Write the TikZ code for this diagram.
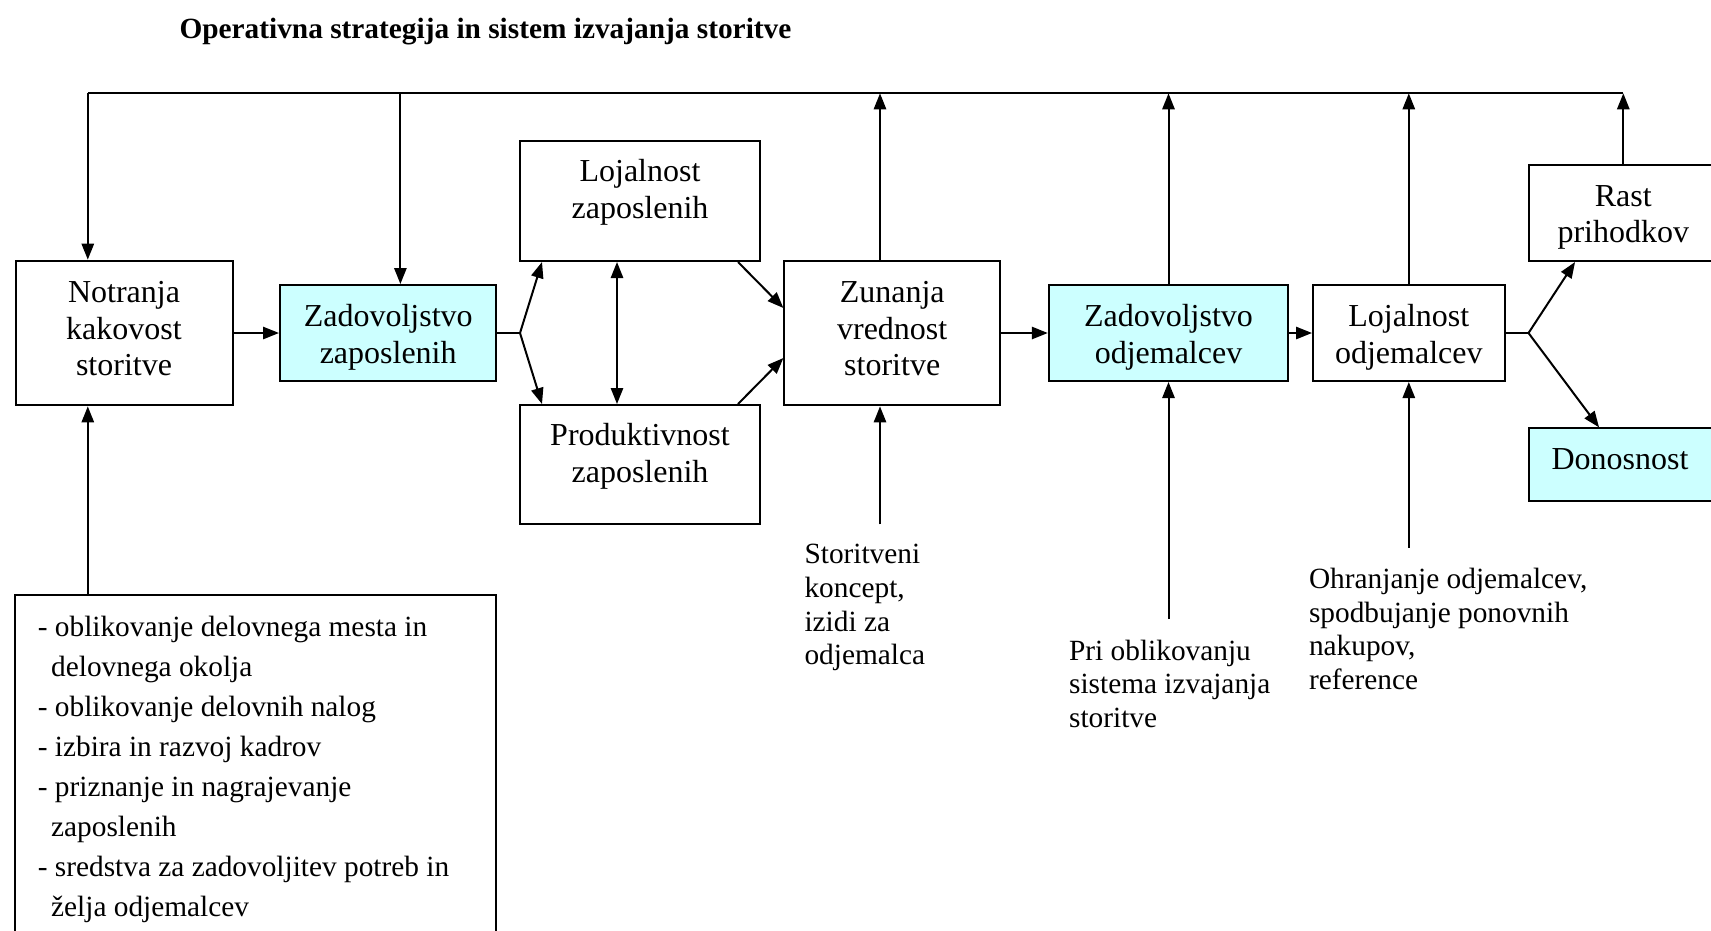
\documentclass[tikz,border=0pt]{standalone}
\usepackage{fontspec}
\setmainfont{Liberation Serif}
\usetikzlibrary{arrows.meta,calc}

\definecolor{svetlomodra}{HTML}{CCFFFF}
\newcommand{\pxu}{0.375pt}

\tikzset{
    blok/.style={draw, line width=0.75pt, inner sep=0pt},
    modriblok/.style={blok, fill=svetlomodra},
    bloknapis/.style={inner sep=0pt, align=center, font=\fontsize{12}{13.8}\selectfont},
    opis/.style={inner sep=0pt, align=left, font=\fontsize{11}{12.6}\selectfont},
    crta/.style={line width=0.75pt},
    puscica/.style={crta, -{Triangle[length=6pt,width=4.6pt]}},
    dvojna/.style={crta, {Triangle[length=6pt,width=4.6pt]}-{Triangle[length=6pt,width=4.6pt]}}
}

\begin{document}
\begin{tikzpicture}[x=0.375pt, y=-0.375pt]
        \useasboundingbox (0,0) rectangle (1711,930);

        \node[opis, font=\fontsize{11}{12.6}\selectfont\bfseries, anchor=base west] (naslov) at (179,38.2) {Operativna strategija in sistem izvajanja storitve};

        % bloki
        \node[blok, minimum width=217*\pxu, minimum height=144.7*\pxu] (notr) at (124,333) {};
        \node[bloknapis] (notrt) at (124,328.6) {Notranja\\kakovost\\storitve};
        \node[modriblok, minimum width=216.4*\pxu, minimum height=96*\pxu] (zadzap) at (388.2,333) {};
        \node[bloknapis] (zadzapt) at (388.2,337.4) {Zadovoljstvo\\zaposlenih};

        \node[blok, minimum width=240*\pxu, minimum height=120*\pxu] (lojzap) at (640,201) {};
        \node[bloknapis] (lojzapt) at (640,192) {Lojalnost\\zaposlenih};
        \node[blok, minimum width=240*\pxu, minimum height=119*\pxu] (prod) at (640,464.5) {};
        \node[bloknapis] (prodt) at (640,456.3) {Produktivnost\\zaposlenih};

        \node[blok, minimum width=215.6*\pxu, minimum height=144.7*\pxu] (zun) at (892.2,333) {};
        \node[bloknapis] (zunt) at (892.2,328.6) {Zunanja\\vrednost\\storitve};
        \node[modriblok, minimum width=239.4*\pxu, minimum height=96*\pxu] (zadodj) at (1168.5,333) {};
        \node[bloknapis] (zadodjt) at (1168.5,337.4) {Zadovoljstvo\\odjemalcev};
        \node[blok, minimum width=191.6*\pxu, minimum height=96*\pxu] (lojodj) at (1408.8,333) {};
        \node[bloknapis] (lojodjt) at (1408.8,337.4) {Lojalnost\\odjemalcev};

        \node[blok, minimum width=189.5*\pxu, minimum height=96*\pxu] (rast) at (1623.3,213) {};
        \node[bloknapis] (rastt) at (1623.3,217.5) {Rast\\prihodkov};
        \node[modriblok, minimum width=189.5*\pxu, minimum height=72.7*\pxu] (don) at (1623.3,464.7) {};
        \node[bloknapis] (dont) at (1620,459.2) {Donosnost};

        % spodnji seznam
        \node[blok, minimum width=481*\pxu, minimum height=365*\pxu] (seznam) at (255.9,777.5) {};
        \node[opis, font=\fontsize{11}{15}\selectfont, anchor=north west] (seznamt) at (37.3,615.9) {- oblikovanje delovnega mesta in\\\hspace*{5pt}delovnega okolja\\- oblikovanje delovnih nalog\\- izbira in razvoj kadrov\\- priznanje in nagrajevanje\\\hspace*{5pt}zaposlenih\\- sredstva za zadovoljitev potreb in\\\hspace*{5pt}želja odjemalcev};

        % opisi
        \node[opis, anchor=north west] (koncept) at (804,543.9) {Storitveni\\koncept,\\izidi za\\odjemalca};
        \node[opis, anchor=north west] (pri) at (1068.6,639.2) {Pri oblikovanju\\sistema izvajanja\\storitve};
        \node[opis, anchor=north west] (ohr) at (1308.5,567.8) {Ohranjanje odjemalcev,\\spodbujanje ponovnih\\nakupov,\\reference};

        \coordinate (zgL) at (87.8,93.3);
        \coordinate (zgZ) at (400.4,93.3);
        \coordinate (razc1) at (520,333);
        \coordinate (razc2) at (1528.5,333);
        \coordinate (vhKonc) at (880,524.3);
        \coordinate (vhPri) at (1168.5,619);
        \coordinate (vhOhr) at (1408.8,547.7);

        % povratna zanka zgoraj
        \draw[crta] (zgL) -- (rast.north |- zgL);
        \draw[puscica] (zgL) -- (zgL |- notr.north);
        \draw[puscica] (zgZ) -- (zgZ |- zadzap.north);
        \draw[puscica] (vhKonc |- zun.north) -- (vhKonc |- zgL);
        \draw[puscica] (zadodj.north) -- (zadodj.north |- zgL);
        \draw[puscica] (lojodj.north) -- (lojodj.north |- zgL);
        \draw[puscica] (rast.north) -- (rast.north |- zgL);

        % glavna veriga
        \draw[puscica] (notr.east) -- (zadzap.west);
        \draw[crta] (zadzap.east) -- (razc1);
        \draw[puscica] (razc1) -- ($(lojzap.south west)+(23,0)$);
        \draw[puscica] (razc1) -- ($(prod.north west)+(23,0)$);
        \draw[dvojna] ($(lojzap.south)+(-23,0)$) -- ($(prod.north)+(-23,0)$);
        \draw[puscica] ($(lojzap.south east)+(-23,0)$) -- ($(zun.west)+(0,-25)$);
        \draw[puscica] ($(prod.north east)+(-23,0)$) -- ($(zun.west)+(0,25)$);
        \draw[puscica] (zun.east) -- (zadodj.west);
        \draw[puscica] (zadodj.east) -- (lojodj.west);
        \draw[crta] (lojodj.east) -- (razc2);
        \draw[puscica] (razc2) -- ($(rast.south west)+(47.5,0)$);
        \draw[puscica] (razc2) -- ($(don.north west)+(71.5,0)$);

        % vhodi od spodaj
        \draw[puscica] (zgL |- seznam.north) -- (zgL |- notr.south);
        \draw[puscica] (vhKonc) -- (vhKonc |- zun.south);
        \draw[puscica] (vhPri) -- (zadodj.south);
        \draw[puscica] (vhOhr) -- (lojodj.south);
\end{tikzpicture}
\end{document}
